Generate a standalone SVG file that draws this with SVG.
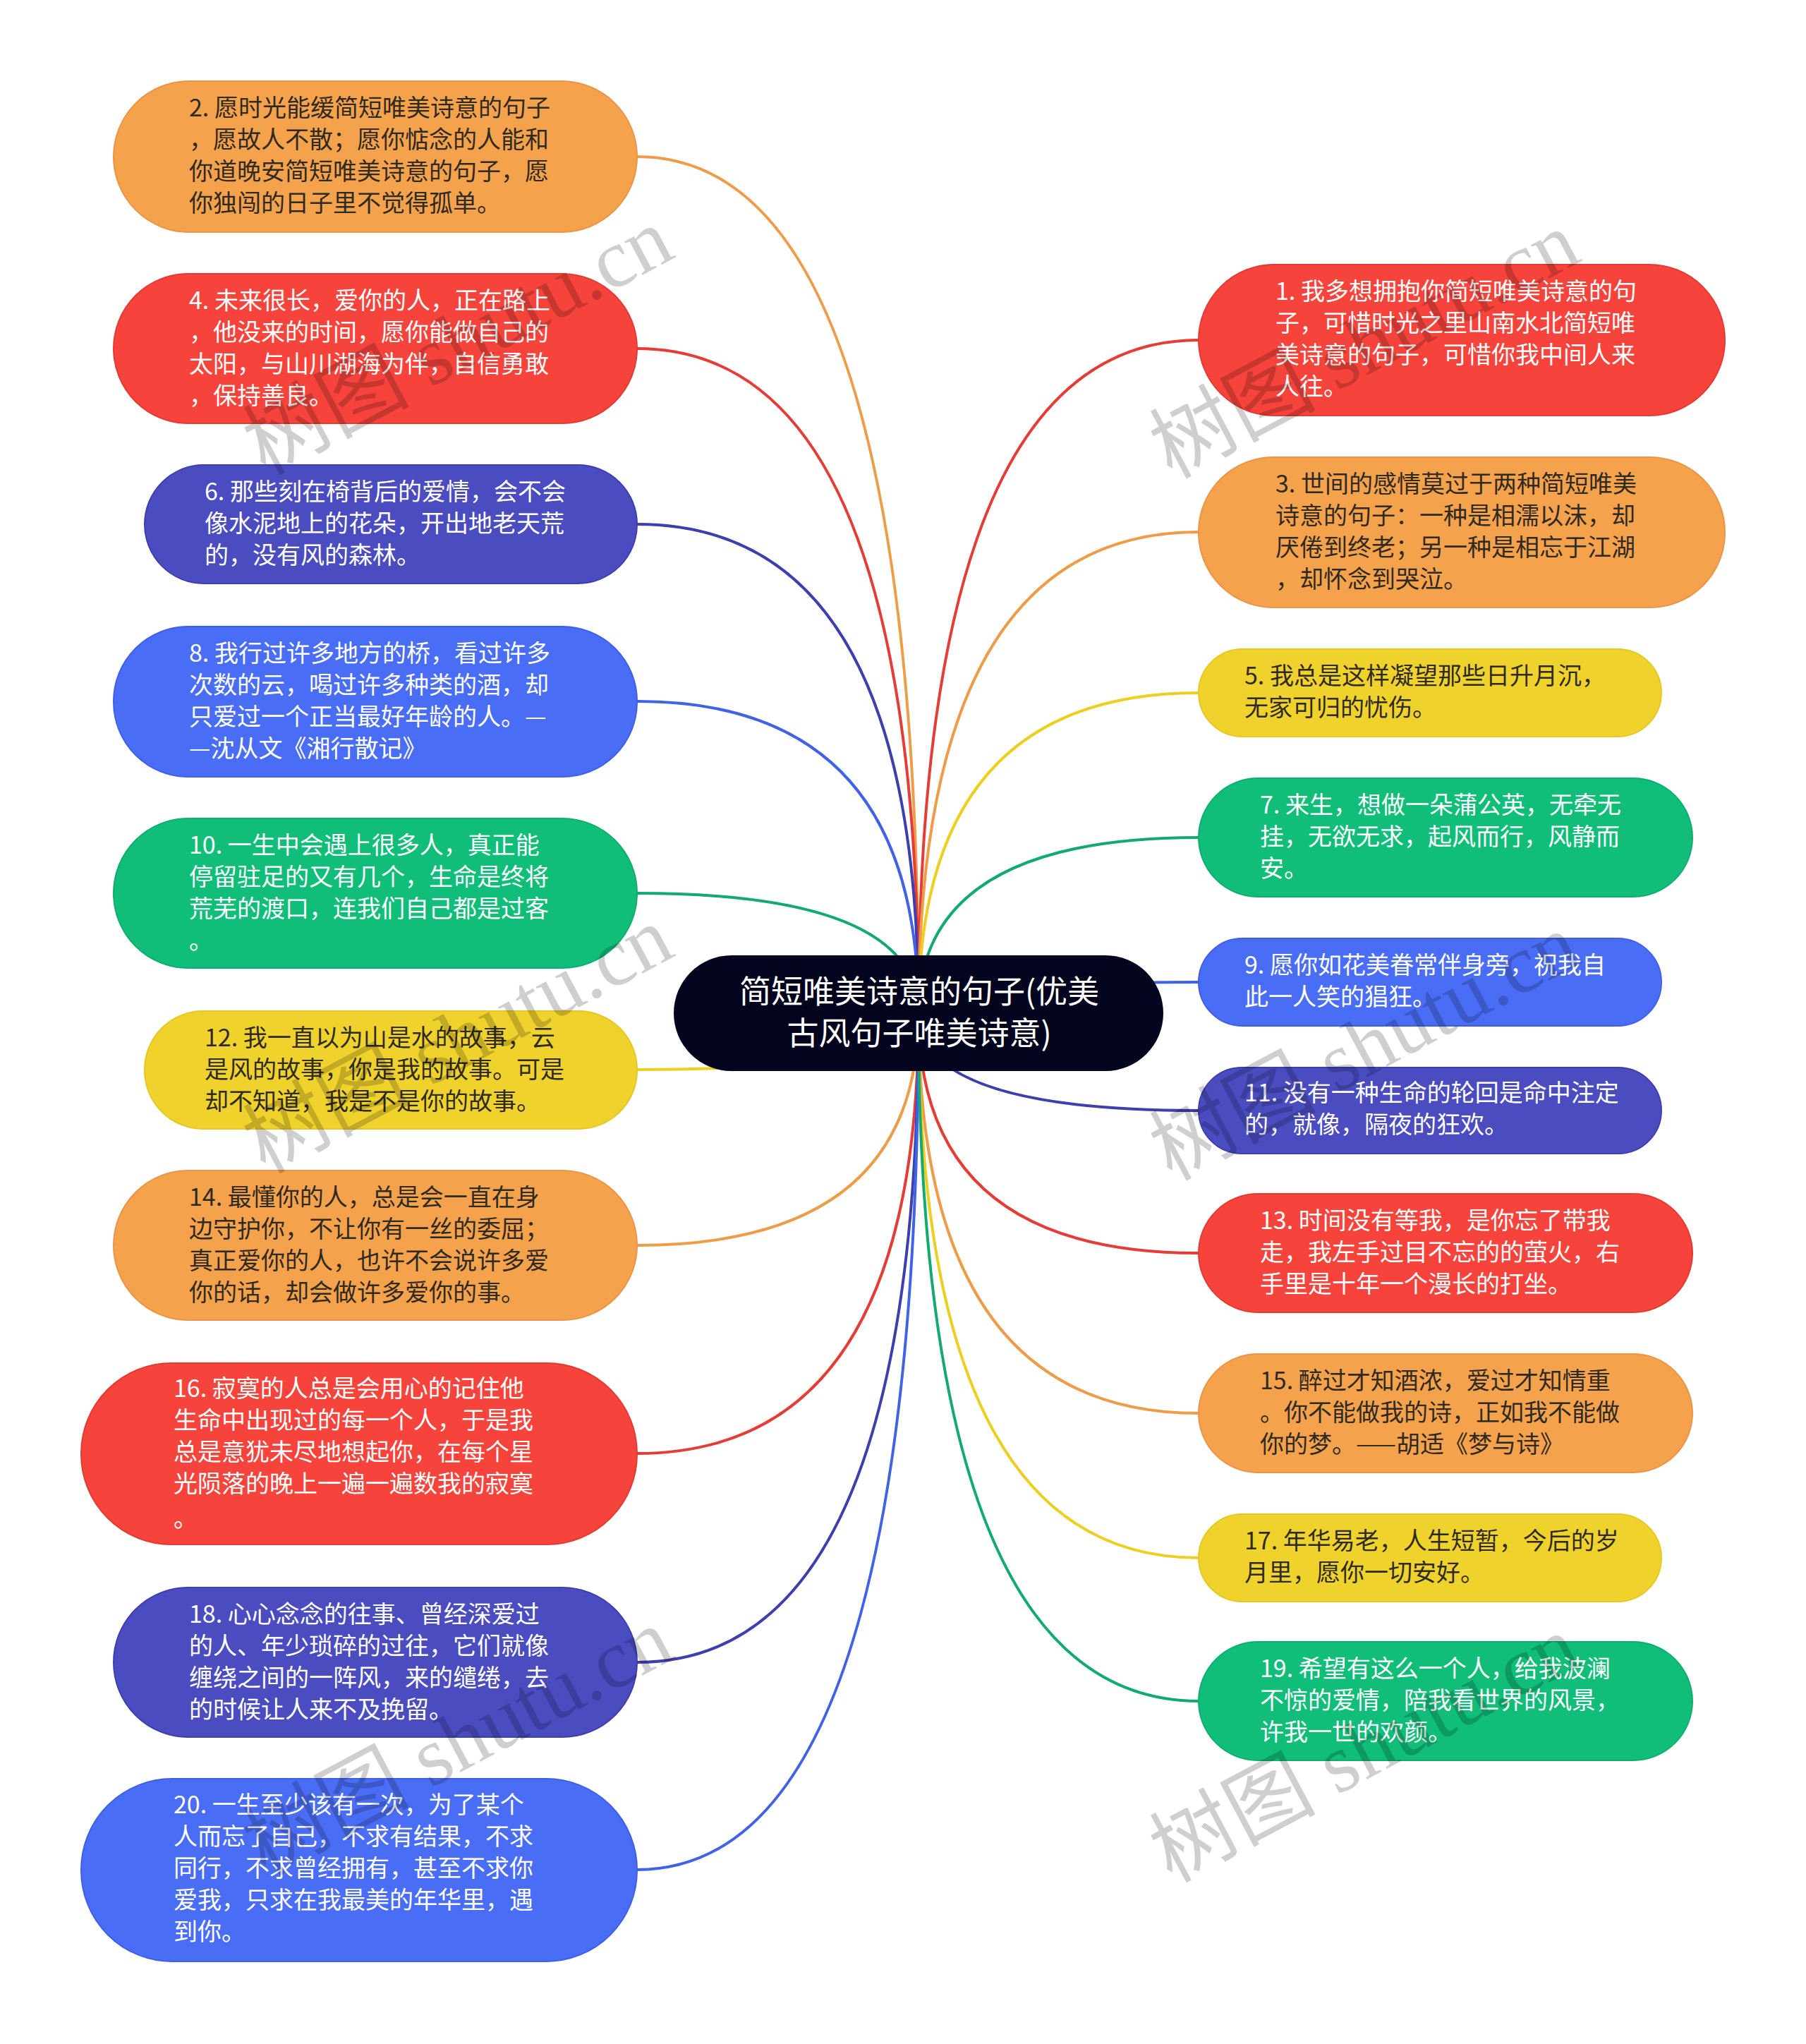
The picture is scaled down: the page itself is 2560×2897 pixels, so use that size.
<svg xmlns="http://www.w3.org/2000/svg" width="2560" height="2897" viewBox="0 0 2560 2897">
<style>
.t{font-family:"Noto Sans CJK SC","Noto Sans",sans-serif;font-size:34px}
.w{fill:#ffffff}
.d{fill:#2f2a22}
.ct{font-family:"Noto Sans CJK SC","Noto Sans",sans-serif;font-size:45px;fill:#ffffff;text-anchor:middle}
.c{fill:none;stroke-width:4;stroke-linecap:round}
.or{fill:#F5A24D;stroke:#E9954A;stroke-width:2}
.rd{fill:#F6443C;stroke:#E23B33;stroke-width:2}
.in{fill:#4B4CC0;stroke:#3E3FAE;stroke-width:2}
.bl{fill:#4A6DF6;stroke:#3F5FE6;stroke-width:2}
.gr{fill:#10BD79;stroke:#0FAE6E;stroke-width:2}
.ye{fill:#F0D22D;stroke:#E6C724;stroke-width:2}
.wm{font-family:"Liberation Serif","Noto Sans CJK SC",serif;font-size:118px;fill:#000000;fill-opacity:0.19;text-anchor:middle;dominant-baseline:middle}
</style>
<rect width="2560" height="2897" fill="#ffffff"/>
<g id="connectors">
<path class="c" stroke="#EE9C48" d="M1302 1436 Q1302 222 903 222"/>
<path class="c" stroke="#E53D35" d="M1302 1436 Q1302 494 903 494"/>
<path class="c" stroke="#3E3FAE" d="M1302 1436 Q1302 743 903 743"/>
<path class="c" stroke="#3F62E8" d="M1302 1436 Q1302 994 903 994"/>
<path class="c" stroke="#12AA6E" d="M1302 1436 Q1302 1266 903 1266"/>
<path class="c" stroke="#EDCF22" d="M1302 1436 Q1302 1516 903 1516"/>
<path class="c" stroke="#EE9C48" d="M1302 1436 Q1302 1765 903 1765"/>
<path class="c" stroke="#E53D35" d="M1302 1436 Q1302 2060 903 2060"/>
<path class="c" stroke="#3E3FAE" d="M1302 1436 Q1302 2356 903 2356"/>
<path class="c" stroke="#3F62E8" d="M1302 1436 Q1302 2650 903 2650"/>
<path class="c" stroke="#E53D35" d="M1302 1436 Q1302 482 1699 482"/>
<path class="c" stroke="#EE9C48" d="M1302 1436 Q1302 754 1699 754"/>
<path class="c" stroke="#EDCF22" d="M1302 1436 Q1302 982 1699 982"/>
<path class="c" stroke="#12AA6E" d="M1302 1436 Q1302 1187 1699 1187"/>
<path class="c" stroke="#3F62E8" d="M1302 1436 Q1302 1392 1699 1392"/>
<path class="c" stroke="#3E3FAE" d="M1302 1436 Q1302 1574 1699 1574"/>
<path class="c" stroke="#E53D35" d="M1302 1436 Q1302 1776 1699 1776"/>
<path class="c" stroke="#EE9C48" d="M1302 1436 Q1302 2003 1699 2003"/>
<path class="c" stroke="#EDCF22" d="M1302 1436 Q1302 2208 1699 2208"/>
<path class="c" stroke="#12AA6E" d="M1302 1436 Q1302 2411 1699 2411"/>
</g>
<g id="center">
<rect x="955" y="1354" width="694" height="164" rx="82" fill="#03051F"/>
<text class="ct" x="1303" y="1422">简短唯美诗意的句子(优美</text>
<text class="ct" x="1303" y="1481">古风句子唯美诗意)</text>
</g>
<g id="n2">
<rect class="or" x="161" y="115" width="742" height="214" rx="107"/>
<text class="t d" x="268" y="165">2. 愿时光能缓简短唯美诗意的句子</text>
<text class="t d" x="268" y="210">，愿故人不散；愿你惦念的人能和</text>
<text class="t d" x="268" y="255">你道晚安简短唯美诗意的句子，愿</text>
<text class="t d" x="268" y="300">你独闯的日子里不觉得孤单。</text>
</g>
<g id="n4">
<rect class="rd" x="161" y="388" width="742" height="212" rx="106"/>
<text class="t w" x="268" y="438">4. 未来很长，爱你的人，正在路上</text>
<text class="t w" x="268" y="483">，他没来的时间，愿你能做自己的</text>
<text class="t w" x="268" y="528">太阳，与山川湖海为伴，自信勇敢</text>
<text class="t w" x="268" y="573">，保持善良。</text>
</g>
<g id="n6">
<rect class="in" x="205" y="659" width="698" height="168" rx="84"/>
<text class="t w" x="290" y="709">6. 那些刻在椅背后的爱情，会不会</text>
<text class="t w" x="290" y="754">像水泥地上的花朵，开出地老天荒</text>
<text class="t w" x="290" y="799">的，没有风的森林。</text>
</g>
<g id="n8">
<rect class="bl" x="161" y="888" width="742" height="213" rx="106"/>
<text class="t w" x="268" y="938">8. 我行过许多地方的桥，看过许多</text>
<text class="t w" x="268" y="983">次数的云，喝过许多种类的酒，却</text>
<text class="t w" x="268" y="1028">只爱过一个正当最好年龄的人。—</text>
<text class="t w" x="268" y="1073">—沈从文《湘行散记》</text>
</g>
<g id="n10">
<rect class="gr" x="161" y="1160" width="742" height="212" rx="106"/>
<text class="t w" x="268" y="1210">10. 一生中会遇上很多人，真正能</text>
<text class="t w" x="268" y="1255">停留驻足的又有几个，生命是终将</text>
<text class="t w" x="268" y="1300">荒芜的渡口，连我们自己都是过客</text>
<text class="t w" x="268" y="1345">。</text>
</g>
<g id="n12">
<rect class="ye" x="205" y="1433" width="698" height="167" rx="83"/>
<text class="t d" x="290" y="1483">12. 我一直以为山是水的故事，云</text>
<text class="t d" x="290" y="1528">是风的故事，你是我的故事。可是</text>
<text class="t d" x="290" y="1573">却不知道，我是不是你的故事。</text>
</g>
<g id="n14">
<rect class="or" x="161" y="1659" width="742" height="212" rx="106"/>
<text class="t d" x="268" y="1709">14. 最懂你的人，总是会一直在身</text>
<text class="t d" x="268" y="1754">边守护你，不让你有一丝的委屈；</text>
<text class="t d" x="268" y="1799">真正爱你的人，也许不会说许多爱</text>
<text class="t d" x="268" y="1844">你的话，却会做许多爱你的事。</text>
</g>
<g id="n16">
<rect class="rd" x="115" y="1932" width="788" height="257" rx="128"/>
<text class="t w" x="246" y="1980">16. 寂寞的人总是会用心的记住他</text>
<text class="t w" x="246" y="2025">生命中出现过的每一个人，于是我</text>
<text class="t w" x="246" y="2070">总是意犹未尽地想起你，在每个星</text>
<text class="t w" x="246" y="2115">光陨落的晚上一遍一遍数我的寂寞</text>
<text class="t w" x="246" y="2164">。</text>
</g>
<g id="n18">
<rect class="in" x="161" y="2250" width="742" height="212" rx="106"/>
<text class="t w" x="268" y="2300">18. 心心念念的往事、曾经深爱过</text>
<text class="t w" x="268" y="2345">的人、年少琐碎的过往，它们就像</text>
<text class="t w" x="268" y="2390">缠绕之间的一阵风，来的缱绻，去</text>
<text class="t w" x="268" y="2435">的时候让人来不及挽留。</text>
</g>
<g id="n20">
<rect class="bl" x="115" y="2521" width="788" height="259" rx="129"/>
<text class="t w" x="246" y="2570">20. 一生至少该有一次，为了某个</text>
<text class="t w" x="246" y="2615">人而忘了自己，不求有结果，不求</text>
<text class="t w" x="246" y="2660">同行，不求曾经拥有，甚至不求你</text>
<text class="t w" x="246" y="2705">爱我，只求在我最美的年华里，遇</text>
<text class="t w" x="246" y="2750">到你。</text>
</g>
<g id="n1">
<rect class="rd" x="1699" y="375" width="746" height="214" rx="107"/>
<text class="t w" x="1808" y="425">1. 我多想拥抱你简短唯美诗意的句</text>
<text class="t w" x="1808" y="470">子，可惜时光之里山南水北简短唯</text>
<text class="t w" x="1808" y="515">美诗意的句子，可惜你我中间人来</text>
<text class="t w" x="1808" y="560">人往。</text>
</g>
<g id="n3">
<rect class="or" x="1699" y="648" width="746" height="213" rx="106"/>
<text class="t d" x="1808" y="698">3. 世间的感情莫过于两种简短唯美</text>
<text class="t d" x="1808" y="743">诗意的句子：一种是相濡以沫，却</text>
<text class="t d" x="1808" y="788">厌倦到终老；另一种是相忘于江湖</text>
<text class="t d" x="1808" y="833">，却怀念到哭泣。</text>
</g>
<g id="n5">
<rect class="ye" x="1699" y="920" width="656" height="124" rx="62"/>
<text class="t d" x="1764" y="970">5. 我总是这样凝望那些日升月沉，</text>
<text class="t d" x="1764" y="1015">无家可归的忧伤。</text>
</g>
<g id="n7">
<rect class="gr" x="1699" y="1103" width="700" height="168" rx="84"/>
<text class="t w" x="1786" y="1153">7. 来生，想做一朵蒲公英，无牵无</text>
<text class="t w" x="1786" y="1198">挂，无欲无求，起风而行，风静而</text>
<text class="t w" x="1786" y="1243">安。</text>
</g>
<g id="n9">
<rect class="bl" x="1699" y="1330" width="656" height="124" rx="62"/>
<text class="t w" x="1764" y="1380">9. 愿你如花美眷常伴身旁，祝我自</text>
<text class="t w" x="1764" y="1425">此一人笑的猖狂。</text>
</g>
<g id="n11">
<rect class="in" x="1699" y="1513" width="656" height="122" rx="61"/>
<text class="t w" x="1764" y="1561">11. 没有一种生命的轮回是命中注定</text>
<text class="t w" x="1764" y="1606">的，就像，隔夜的狂欢。</text>
</g>
<g id="n13">
<rect class="rd" x="1699" y="1692" width="700" height="168" rx="84"/>
<text class="t w" x="1786" y="1742">13. 时间没有等我，是你忘了带我</text>
<text class="t w" x="1786" y="1787">走，我左手过目不忘的的萤火，右</text>
<text class="t w" x="1786" y="1832">手里是十年一个漫长的打坐。</text>
</g>
<g id="n15">
<rect class="or" x="1699" y="1919" width="700" height="168" rx="84"/>
<text class="t d" x="1786" y="1969">15. 醉过才知酒浓，爱过才知情重</text>
<text class="t d" x="1786" y="2014">。你不能做我的诗，正如我不能做</text>
<text class="t d" x="1786" y="2059">你的梦。——胡适《梦与诗》</text>
</g>
<g id="n17">
<rect class="ye" x="1699" y="2146" width="656" height="124" rx="62"/>
<text class="t d" x="1764" y="2196">17. 年华易老，人生短暂，今后的岁</text>
<text class="t d" x="1764" y="2241">月里，愿你一切安好。</text>
</g>
<g id="n19">
<rect class="gr" x="1699" y="2327" width="700" height="168" rx="84"/>
<text class="t w" x="1786" y="2377">19. 希望有这么一个人，给我波澜</text>
<text class="t w" x="1786" y="2422">不惊的爱情，陪我看世界的风景，</text>
<text class="t w" x="1786" y="2467">许我一世的欢颜。</text>
</g>
<g id="watermark">
<text class="wm" transform="translate(655 495) rotate(-28)">树图 shutu.cn</text>
<text class="wm" transform="translate(1940 500) rotate(-28)">树图 shutu.cn</text>
<text class="wm" transform="translate(655 1485) rotate(-28)">树图 shutu.cn</text>
<text class="wm" transform="translate(1940 1495) rotate(-28)">树图 shutu.cn</text>
<text class="wm" transform="translate(655 2480) rotate(-28)">树图 shutu.cn</text>
<text class="wm" transform="translate(1940 2490) rotate(-28)">树图 shutu.cn</text>
</g>
</svg>
